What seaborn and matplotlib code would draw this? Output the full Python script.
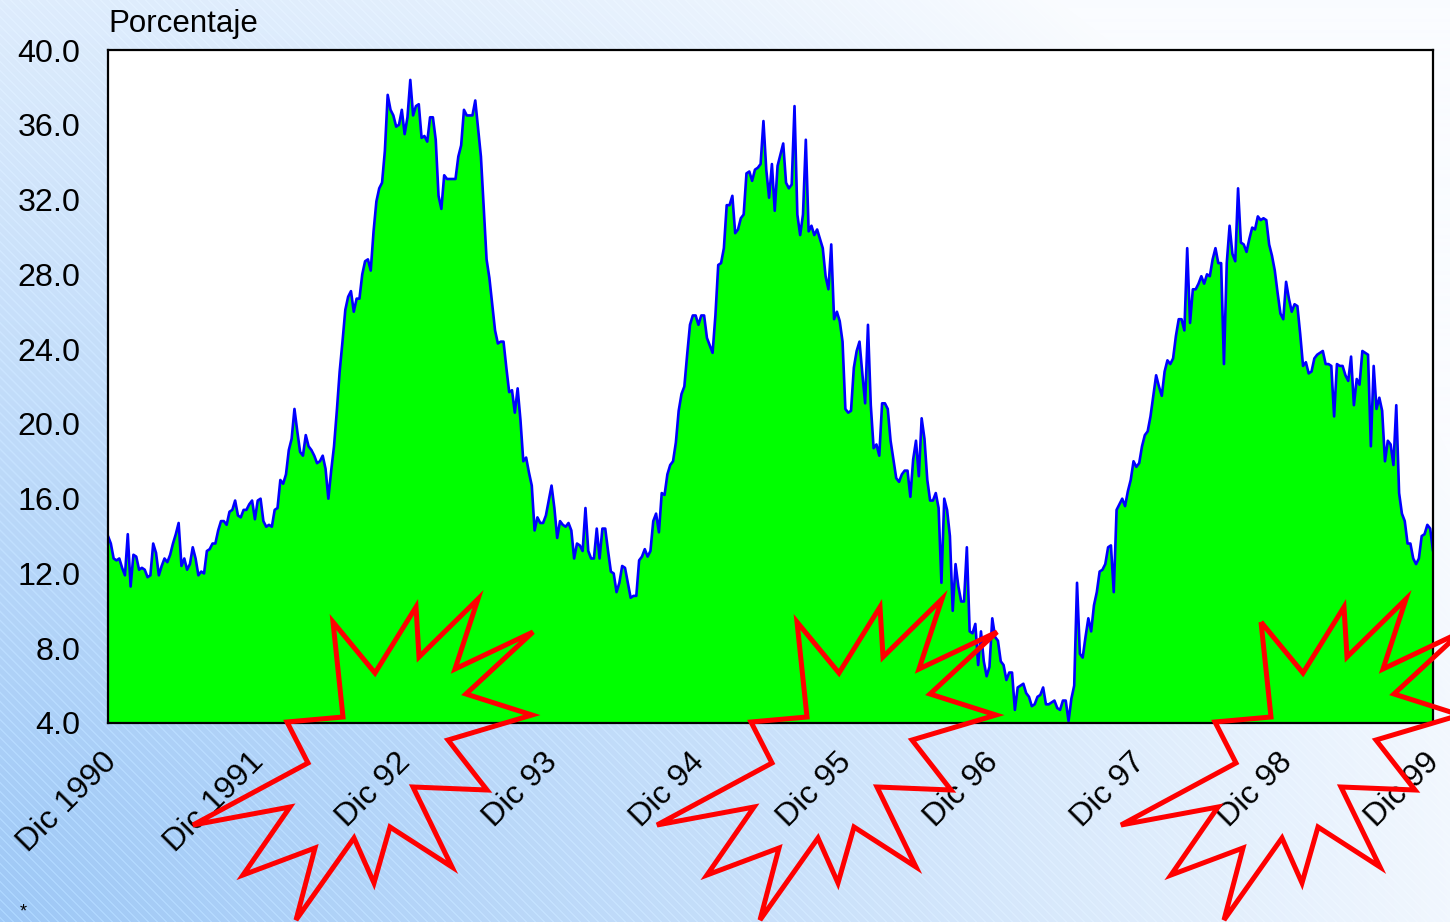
import numpy as np
import pandas as pd
import matplotlib
matplotlib.use("Agg")
import matplotlib.pyplot as plt
import matplotlib.transforms as mtransforms
from matplotlib.patches import Polygon
import seaborn as sns

# ---------------- data (weekly values, Porcentaje) ----------------
dic90_dic91 = [14.0, 13.6, 12.8, 12.7, 12.8, 12.3, 11.9, 14.1, 11.3, 13.0,
               12.9, 12.2, 12.3, 12.2, 11.8, 11.9, 13.6, 13.1, 11.9, 12.4,
               12.8, 12.6, 13.0, 13.6, 14.1, 14.7, 12.4, 12.8, 12.2, 12.5,
               13.4, 12.8, 11.9, 12.1, 12.0, 13.2, 13.3, 13.6, 13.6, 14.3,
               14.8, 14.8, 14.6, 15.3, 15.4, 15.9, 15.1, 15.0, 15.4, 15.4,
               15.7, 15.9]
dic91_dic92 = [14.9, 15.9, 16.0, 14.8, 14.5, 14.6, 14.5, 15.4, 15.5, 17.0,
               16.8, 17.3, 18.6, 19.2, 20.8, 19.6, 18.5, 18.3, 19.4, 18.8,
               18.6, 18.3, 17.9, 18.0, 18.3, 17.6, 16.0, 17.5, 18.8, 20.7,
               22.8, 24.4, 26.1, 26.8, 27.1, 26.0, 26.7, 26.7, 28.0, 28.7,
               28.8, 28.2, 30.3, 31.9, 32.6, 32.9, 34.6, 37.6, 36.8, 36.5,
               35.9, 36.0]
dic92_dic93 = [36.8, 35.5, 36.4, 38.4, 36.5, 37.0, 37.1, 35.3, 35.4, 35.1,
               36.4, 36.4, 35.2, 32.2, 31.5, 33.3, 33.1, 33.1, 33.1, 33.1,
               34.3, 34.9, 36.8, 36.5, 36.5, 36.5, 37.3, 35.8, 34.3, 31.6,
               28.8, 27.8, 26.4, 25.0, 24.3, 24.4, 24.4, 23.0, 21.7, 21.8,
               20.6, 21.9, 20.2, 18.0, 18.2, 17.4, 16.7, 14.3, 15.0, 14.7,
               14.7, 15.1]
dic93_dic94 = [15.9, 16.7, 15.5, 13.9, 14.8, 14.6, 14.5, 14.7, 14.3, 12.8,
               13.6, 13.5, 13.2, 15.5, 13.2, 12.8, 12.8, 14.4, 12.8, 14.4,
               14.4, 13.2, 12.1, 12.0, 11.0, 11.5, 12.4, 12.3, 11.5, 10.7,
               10.8, 10.8, 12.7, 12.9, 13.3, 12.9, 13.2, 14.8, 15.2, 14.2,
               16.3, 16.2, 17.3, 17.8, 18.0, 19.0, 20.7, 21.6, 22.0, 23.7,
               25.3, 25.8]
dic94_dic95 = [25.8, 25.3, 25.8, 25.8, 24.6, 24.2, 23.8, 25.8, 28.5, 28.6,
               29.4, 31.7, 31.7, 32.2, 30.2, 30.4, 31.0, 31.2, 33.4, 33.5,
               33.0, 33.6, 33.7, 33.9, 36.2, 33.6, 32.1, 33.9, 31.4, 33.8,
               34.4, 35.0, 32.9, 32.6, 32.8, 37.0, 31.2, 30.1, 31.2, 35.2,
               30.3, 30.6, 30.1, 30.4, 29.9, 29.4, 27.9, 27.2, 29.6, 25.6,
               26.0, 25.5]
dic95_dic96 = [24.4, 20.8, 20.6, 20.7, 23.0, 23.9, 24.4, 22.7, 21.1, 25.3,
               21.0, 18.7, 18.9, 18.3, 21.1, 21.1, 20.8, 19.1, 18.1, 17.1,
               16.9, 17.3, 17.5, 17.5, 16.1, 18.1, 19.1, 17.2, 20.3, 19.2,
               17.0, 15.9, 15.9, 16.3, 15.5, 11.5, 16.0, 15.4, 14.0, 10.0,
               12.5, 11.3, 10.5, 10.5, 13.4, 8.9, 8.8, 9.3, 7.1, 8.9,
               7.3, 6.5]
dic96_dic97 = [7.0, 9.6, 8.6, 8.4, 7.3, 7.1, 6.3, 6.7, 6.7, 4.7,
               5.9, 6.0, 6.1, 5.6, 5.4, 4.9, 5.0, 5.4, 5.5, 5.9,
               5.0, 5.0, 5.1, 5.2, 4.8, 4.7, 5.2, 5.2, 4.1, 5.3,
               6.0, 11.5, 7.7, 7.5, 8.6, 9.6, 8.9, 10.3, 11.0, 12.1,
               12.2, 12.5, 13.4, 13.5, 11.0, 15.4, 15.7, 16.0, 15.6, 16.4,
               17.0, 18.0]
dic97_dic98 = [17.7, 17.9, 18.8, 19.4, 19.6, 20.4, 21.5, 22.6, 22.0, 21.5,
               22.8, 23.4, 23.2, 23.5, 24.7, 25.6, 25.6, 25.0, 29.4, 25.4,
               27.2, 27.2, 27.5, 27.9, 27.5, 28.0, 27.9, 28.8, 29.4, 28.6,
               28.6, 23.2, 28.6, 30.6, 29.1, 28.7, 32.6, 29.7, 29.6, 29.2,
               29.9, 30.5, 30.4, 31.1, 30.9, 31.0, 30.9, 29.6, 29.0, 28.2,
               27.0, 25.9]
dic98_dic99 = [25.6, 27.6, 26.7, 26.0, 26.4, 26.3, 24.8, 23.1, 23.3, 22.7,
               22.8, 23.5, 23.7, 23.8, 23.9, 23.2, 23.2, 23.1, 20.4, 23.2,
               23.1, 23.1, 22.6, 22.3, 23.6, 21.0, 22.4, 22.1, 23.9, 23.8,
               23.7, 18.8, 23.1, 20.8, 21.4, 20.7, 18.0, 19.1, 18.9, 17.8,
               21.0, 16.3, 15.2, 14.8, 13.6, 13.6, 12.8, 12.5, 12.8, 14.0,
               14.1, 14.6, 14.4, 13.2]

x_tick_labels = ["Dic 1990", "Dic 1991", "Dic 92", "Dic 93", "Dic 94",
                 "Dic 95", "Dic 96", "Dic 97", "Dic 98", "Dic 99"]
y_ticks = [4.0, 8.0, 12.0, 16.0, 20.0, 24.0, 28.0, 32.0, 36.0, 40.0]
y_label = "Porcentaje"
weeks_per_year = 52

values = np.concatenate([dic90_dic91, dic91_dic92, dic92_dic93, dic93_dic94,
                         dic94_dic95, dic95_dic96, dic96_dic97, dic97_dic98,
                         dic98_dic99])
df = pd.DataFrame({"semana": np.arange(len(values)), "porcentaje": values})

# ---------------- styling ----------------
sns.set_theme(style="white")
plt.rcParams["font.family"] = ["Liberation Sans", "DejaVu Sans"]

W, H = 1450, 922
fig = plt.figure(figsize=(W / 100, H / 100), dpi=100)

# background gradient with faint diagonal stripes
bg = fig.add_axes([0, 0, 1, 1], zorder=-10)
yy, xx = np.mgrid[0:H, 0:W].astype(float)
dist = np.hypot(xx / 1.25, (H - yy))
s = np.clip(1 - dist / 1250.0, 0, 1) ** 0.9
blue = np.array([158, 200, 246]) / 255.0
white = np.array([250, 252, 255]) / 255.0
img = white[None, None, :] * (1 - s[..., None]) + blue[None, None, :] * s[..., None]
stripe = (((xx - yy) % 9) < 1.6).astype(float)
img = img + (stripe * 0.05 * s)[..., None]
img = np.clip(img, 0, 1)
bg.imshow(img, aspect="auto", extent=[0, W, H, 0])
bg.set_xlim(0, W)
bg.set_ylim(H, 0)
bg.axis("off")

ax = fig.add_axes([108 / W, 1 - 723 / H, (1433 - 108) / W, (723 - 50) / H], zorder=1)
ax.set_facecolor("white")
ax.fill_between(df["semana"], df["porcentaje"], y_ticks[0], color="#00ff00", lw=0, zorder=1)
sns.lineplot(data=df, x="semana", y="porcentaje", ax=ax, color="#0000ff", lw=1.9, zorder=2)

ax.set_xlim(0, len(values) - 1)
ax.set_ylim(y_ticks[0], y_ticks[-1])
ax.set_yticks(y_ticks)
ax.set_yticklabels([f"{v:.1f}" for v in y_ticks])
ax.set_xticks([i * weeks_per_year for i in range(len(x_tick_labels))])
ax.set_xticklabels(x_tick_labels, rotation=45, ha="right", va="top",
                   rotation_mode="anchor")
ax.tick_params(axis="both", length=0, labelsize=23.2, colors="black")
ax.tick_params(axis="y", pad=20)
ax.tick_params(axis="x", pad=18)
ax.set_xlabel("")
ax.set_ylabel("")
for sp in ax.spines.values():
    sp.set_visible(True)
    sp.set_color("black")
    sp.set_linewidth(1.6)
offset = mtransforms.ScaledTranslation(-6 / 100, 1 / 100, fig.dpi_scale_trans)
for lbl in ax.get_xticklabels():
    lbl.set_transform(lbl.get_transform() + offset)

fig.text(108 / W, 1 - 9 / H, y_label, ha="left", va="top", fontsize=22.5, color="black")
fig.text(20 / W, 1 - 922 / H + 2 / H, "*", ha="left", va="bottom", fontsize=13, color="black")

# decorative red starbursts
ov = fig.add_axes([0, 0, 1, 1], zorder=10)
ov.set_xlim(0, W)
ov.set_ylim(H, 0)
ov.axis("off")
ov.patch.set_alpha(0)
star = np.array([
    (333, 622), (375, 673), (416, 607), (419, 657), (478, 599), (455, 669),
    (533, 632), (466, 694), (532, 715), (448, 740), (487, 790), (413, 787),
    (452, 867), (390, 827), (374, 883), (354, 838), (296, 920), (315, 848),
    (243, 875), (290, 807), (193, 825), (308, 763), (287, 722), (343, 717),
])
for dx in (0, 464, 928):
    ov.add_patch(Polygon(star + np.array([dx, 0]), closed=True, fill=False,
                         edgecolor="#ff0000", lw=3.6, joinstyle="miter"))

fig.savefig("out.png", dpi=100)
